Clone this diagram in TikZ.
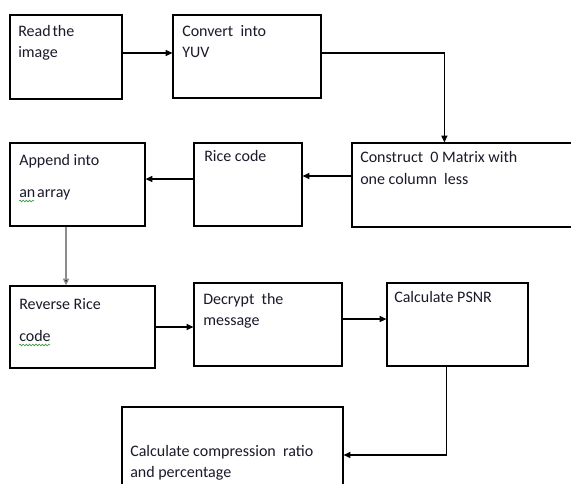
\documentclass[tikz,border=0pt]{standalone}
\usepackage{fontspec}
\setmainfont{Carlito}
\usetikzlibrary{arrows.meta,fit,decorations.pathmorphing}
\definecolor{txtc}{HTML}{1A1A2A}
\definecolor{spell}{HTML}{3C9A3C}
\tikzset{
  box/.style={draw=black, line width=0.9pt, inner sep=0pt, fill=none},
  txt/.style={anchor=base west, inner sep=0pt, text=txtc, font=\fontsize{12pt}{14pt}\selectfont},
  arr/.style={draw=black, line width=0.8pt, -{Triangle[length=5pt,width=4.5pt]}},
  grayarr/.style={draw=black!45, line width=1pt, -{Triangle[length=5pt,width=4.5pt,fill=black]}},
  squig/.style={draw=spell, line width=0.5pt, decorate, decoration={snake, amplitude=0.6pt, segment length=2.4pt}}
}
\begin{document}
\begin{tikzpicture}[x=0.75pt, y=-0.75pt]
\useasboundingbox (0,0) rectangle (571,484);
\clip (0,0) rectangle (571,484);
\fill[white] (0,0) rectangle (571,484);
% boxes
\node[box, fit={(10,15) (122,99)}] (read) {};
\node[box, fit={(173,15) (321,98)}] (conv) {};
\node[box, fit={(352,143) (600,227)}] (cons) {};
\node[box, fit={(194,143) (302,226)}] (rice) {};
\node[box, fit={(10,143) (145,226)}] (app) {};
\node[box, fit={(10,286) (155,368)}] (rev) {};
\node[box, fit={(194,283) (342,366)}] (dec) {};
\node[box, fit={(387,283) (528,366)}] (psnr) {};
\node[box, fit={(122,407) (343,503)}] (fin) {};
% texts
\node[txt] (read-a) at (18,37) {Read\hspace{0.12em}the};
\node[txt] (read-b) at (18,58) {image};
\node[txt] (conv-a) at (182,37) {Convert~ into};
\node[txt] (conv-b) at (182,58) {YUV};
\node[txt] (cons-a) at (360,163) {Construct~ 0 Matrix with};
\node[txt] (cons-b) at (360,185) {one column~ less};
\node[txt] (rice-a) at (204,162) {Rice code};
\node[txt] (app-a) at (19,166) {Append into};
\node[txt] (app-b) at (19,198) {an\hspace{0.12em}array};
\node[txt] (rev-a) at (19,310) {Reverse Rice};
\node[txt] (rev-b) at (19,342) {code};
\node[txt] (dec-a) at (203,305) {Decrypt~ the};
\node[txt] (dec-b) at (203,326) {message};
\node[txt] (psnr-a) at (394,303) {Calculate PSNR};
\node[txt] (fin-a) at (130,456) {Calculate compression~ ratio};
\node[txt] (fin-b) at (130,477) {and percentage};
% spell-check underlines
\draw[squig] (app-b.base west) ++(0,3) -- ++(15,0);
\draw[squig] (rev-b.base west) ++(0,3) -- ++(31,0);
% connectors
\draw[arr] ([yshift=3pt]read.east) -- ([yshift=3pt]read.east -| conv.west);
\draw[arr] ([yshift=2.6pt]conv.east) -| ([xshift=69.75pt]cons.north west);
\draw[arr] ([yshift=6.75pt]cons.west) -- ([yshift=6.75pt]cons.west -| rice.east);
\draw[arr] ([yshift=4.1pt]rice.west) -- ([yshift=4.1pt]rice.west -| app.east);
\draw[grayarr] ([xshift=-8.6pt]app.south) -- ([xshift=-8.6pt]app.south |- rev.north);
\draw[arr] (rev.east) -- (rev.east -| dec.west);
\draw[arr] ([yshift=4.1pt]dec.east) -- ([yshift=4.1pt]dec.east -| psnr.west);
\draw[arr] ([xshift=-8.6pt]psnr.south) |- (fin.east);
\end{tikzpicture}
\end{document}
